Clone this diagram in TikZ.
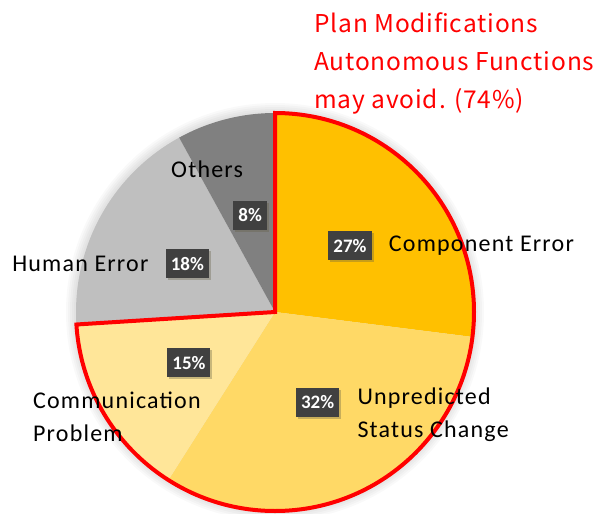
\documentclass[tikz,border=0pt]{standalone}
\usepackage{fontspec}
\setmainfont{Carlito}
\newfontfamily\notefont[LetterSpace=3.5]{Noto Sans CJK JP}
\newfontfamily\lblfont[LetterSpace=5]{Carlito}
\usetikzlibrary{calc,positioning,shadows}
\definecolor{compcol}{HTML}{FFC000}
\definecolor{unpcol}{HTML}{FFD966}
\definecolor{comcol}{HTML}{FFE699}
\definecolor{humcol}{HTML}{BFBFBF}
\definecolor{othcol}{HTML}{808080}
\definecolor{pctgray}{HTML}{404040}
\tikzstyle{pct}=[fill=pctgray, text=white, font=\bfseries\fontsize{19}{19}\selectfont, minimum height=29pt, inner xsep=5pt, inner ysep=0pt,
  drop shadow={shadow xshift=2pt, shadow yshift=-2pt, opacity=0.35, fill=black!70!yellow}]
\tikzstyle{lbl}=[font=\lblfont\fontsize{24}{33}\selectfont, align=left, inner sep=0pt]
\tikzstyle{note}=[font=\notefont\fontsize{24.5}{38}\selectfont, text=red, align=left, inner sep=0pt]

\begin{document}
\begin{tikzpicture}[x=1pt, y=1pt]
  \useasboundingbox (0,0) rectangle (597,-514);
  \coordinate (c) at (275,-312);
  % soft shadow round the pie
  \foreach \s in {2,4,...,10}
    \fill[black, opacity=0.025] (c) circle (199+\s);
  % slices
  \foreach \a/\b/\col in {90/-7.2/compcol, -7.2/-122.4/unpcol, -122.4/-176.4/comcol, -176.4/-241.2/humcol, -241.2/-270/othcol}
    \fill[\col] (c) -- ++(\a:199) arc (\a:\b:199) -- cycle;
  % the 74% that may be avoided
  \draw[red, line width=4pt, line join=miter] (c) -- ++(90:199) arc (90:-176.4:199) -- cycle;
  %
  \node (p27) [pct] at ($(c)+(41.4:100)$) {27\%};
  \node (p32) [pct] at ($(c)+(-64.8:100)$) {32\%};
  \node (p15) [pct] at ($(c)+(-149.4:100)$) {15\%};
  \node (p18) [pct] at ($(c)+(151.2:100)$) {18\%};
  \node (p8) [pct] at ($(c)+(104.4:100)$) {8\%};
  %
  \node (lcomp) [lbl, right=17pt of p27] {Component Error};
  \node (lunp) [lbl, right=18pt of p32.north east, anchor=north west] {Unpredicted\\Status Change};
  \node (lcom) [lbl, below=14pt of p15, xshift=-72pt] {Communication\\Problem};
  \node (lhum) [lbl, left=17pt of p18] {Human Error};
  \node (loth) [lbl, above=23pt of p8, xshift=-43pt] {Others};
  %
  \node (note) [note, anchor=north west] at (314,-12) {Plan Modifications\\Autonomous Functions\\may avoid. (74\%)};
\end{tikzpicture}
\end{document}
